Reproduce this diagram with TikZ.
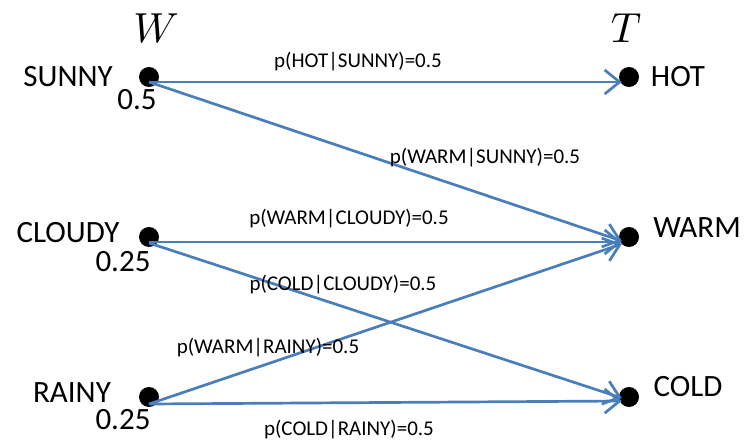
\documentclass[tikz,border=0pt]{standalone}
\usepackage{fontspec}
\setmainfont{Carlito}
\usetikzlibrary{arrows.meta}
\definecolor{edgeblue}{RGB}{74,126,187}

\begin{document}
\begin{tikzpicture}[x=1pt, y=-1pt,
    dot/.style={circle, fill=black, inner sep=0pt, minimum size=20pt},
    state/.style={inner sep=0pt, font=\fontsize{31}{32}\selectfont},
    var/.style={inner sep=0pt, scale=4.2},
    prob/.style={inner sep=0pt, font=\fontsize{21}{22}\selectfont},
    edge/.style={-{Straight Barb[length=15pt, width=24pt]}, line width=2.7pt, edgeblue}
]
    \useasboundingbox (0,0) rectangle (745,443);

    % Variables
    \node[var] (vw) at (156,28) {$W$};
    \node[var] (vt) at (626,28) {$T$};

    % Weather
    \node[dot] (s) at (149,77) {};
    \node[dot] (c) at (149,237) {};
    \node[dot] (r) at (149,397) {};
    \node[state] (ls) at (68,77) {SUNNY};
    \node[state] (lc) at (68,233) {CLOUDY};
    \node[state] (lr) at (72,393) {RAINY};
    \node[state] (ps) at (137,100) {0.5};
    \node[state] (pc) at (123,262) {0.25};
    \node[state] (pr) at (123,420) {0.25};

    % Temperature
    \node[dot] (h) at (629,77) {};
    \node[dot] (w) at (629,237) {};
    \node[dot] (cd) at (629,397) {};
    \node[state] (lh) at (678,77) {HOT};
    \node[state] (lw) at (697,228) {WARM};
    \node[state] (lcd) at (688,387) {COLD};

    % Transitions
    \draw[edge] ([yshift=-5pt]s.center) -- ([xshift=3pt,yshift=-5pt]h.west);
    \draw[edge] ([yshift=-5pt]s.center) -- ([xshift=3pt,yshift=-4pt]w.west);
    \draw[edge] ([yshift=-5pt]c.center) -- ([xshift=3pt,yshift=-5pt]w.west);
    \draw[edge] ([yshift=-6pt]c.center) -- ([xshift=3pt,yshift=-1pt]cd.west);
    \draw[edge] ([yshift=-7pt]r.center) -- ([xshift=3pt,yshift=-7pt]w.west);
    \draw[edge] ([yshift=-7pt]r.center) -- ([xshift=3pt,yshift=-4pt]cd.west);

    % Probabilities
    \node[prob] (psh) at (358,62) {p(HOT|SUNNY)=0.5};
    \node[prob] (psw) at (485,158) {p(WARM|SUNNY)=0.5};
    \node[prob] (pcw) at (349,219) {p(WARM|CLOUDY)=0.5};
    \node[prob] (pcc) at (343,285) {p(COLD|CLOUDY)=0.5};
    \node[prob] (prw) at (268,348) {p(WARM|RAINY)=0.5};
    \node[prob] (prc) at (349,430) {p(COLD|RAINY)=0.5};
\end{tikzpicture}
\end{document}
